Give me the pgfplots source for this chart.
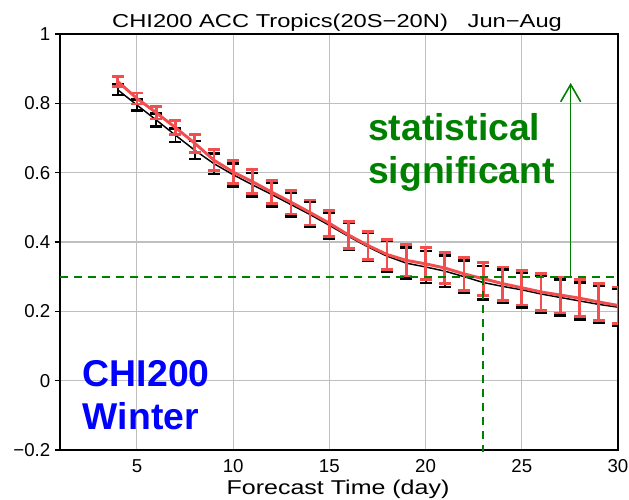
\documentclass[border=0pt]{standalone}
\usepackage{pgfplots}
\pgfplotsset{compat=1.18}
\usepackage{pgfplotstable}
\usepackage{graphicx}
\usepackage{fontspec}
\setmainfont{Liberation Sans}
\usetikzlibrary{arrows.meta}
\definecolor{myred}{RGB}{242,78,78}
\definecolor{mygreen}{RGB}{0,128,0}

\pgfplotstableread{
day r re b be
4 0.863 0.015 0.839 0.015
5 0.814 0.016 0.795 0.016
6 0.773 0.018 0.752 0.018
7 0.730 0.020 0.708 0.020
8 0.685 0.026 0.665 0.026
9 0.636 0.030 0.626 0.030
10 0.602 0.033 0.594 0.033
11 0.574 0.034 0.565 0.034
12 0.544 0.034 0.537 0.034
13 0.515 0.034 0.508 0.034
14 0.485 0.036 0.479 0.036
15 0.454 0.037 0.448 0.037
16 0.420 0.039 0.416 0.039
17 0.390 0.041 0.386 0.041
18 0.364 0.044 0.359 0.044
19 0.347 0.045 0.339 0.045
20 0.337 0.046 0.328 0.046
21 0.325 0.045 0.316 0.046
22 0.308 0.047 0.300 0.047
23 0.294 0.048 0.283 0.048
24 0.280 0.048 0.272 0.048
25 0.268 0.050 0.262 0.050
26 0.256 0.053 0.250 0.053
27 0.247 0.052 0.240 0.052
28 0.238 0.054 0.230 0.054
29 0.227 0.053 0.220 0.053
30 0.217 0.053 0.212 0.053
}\data

\begin{document}
\begin{tikzpicture}
\begin{axis}[name=ax, width=418.5pt, height=312pt, scale only axis,
  xmin=1, xmax=30, ymin=-0.2, ymax=1,
  xtick={5,10,15,20,25,30}, xticklabels={5,10,15,20,25,30},
  ytick={-0.2,0,0.2,0.4,0.6,0.8,1},
  yticklabels={−0.2,0,0.2,0.4,0.6,0.8,1},
  xtick pos=bottom, ytick pos=left, tick align=outside,
  major tick length=3.75pt,
  x tick style={draw=none},
  y tick style={black, line width=1pt},
  tick label style={font=\fontsize{14}{16}\selectfont},
  grid=major, major grid style={color=black!25, line width=0.8pt},
  axis line style={line width=1.5pt},
  clip mode=individual,
]
\addplot[black, line width=1.1pt, error bars/.cd, y dir=both, y explicit,
  error bar style={line width=1.4pt, black},
  error mark options={rotate=90, line width=2pt, mark size=4.5pt, black}]
  table[x=day, y=b, y error=be]{\data};
\addplot[myred, line width=2.2pt, error bars/.cd, y dir=both, y explicit,
  error bar style={line width=2pt, myred},
  error mark options={rotate=90, line width=2.1pt, mark size=4.5pt, myred}]
  table[x=day, y=r, y error=re]{\data};

\draw[mygreen, line width=1.5pt, dash pattern=on 6pt off 4.5pt] (axis cs:1,0.3) -- (axis cs:30,0.3);
\draw[mygreen, line width=1.5pt, dash pattern=on 6pt off 4.5pt] (axis cs:23,0.3) -- (axis cs:23,-0.205);
\draw[mygreen, line width=1.2pt, -{Straight Barb[length=13pt,width=15pt]}] (axis cs:27.54,0.3) -- (axis cs:27.54,0.859);

\node[anchor=base west, inner sep=0, text=mygreen, font=\bfseries\fontsize{28}{30}\selectfont] at (axis cs:17.0,0.694) {statistical};
\node[anchor=base west, inner sep=0, text=mygreen, font=\bfseries\fontsize{28}{30}\selectfont] at (axis cs:17.0,0.570) {significant};
\node[anchor=base west, inner sep=0, text=blue, font=\bfseries\fontsize{28}{30}\selectfont] at (axis cs:2.18,-0.017) {CHI200};
\node[anchor=base west, inner sep=0, text=blue, font=\bfseries\fontsize{28}{30}\selectfont] at (axis cs:2.18,-0.142) {Winter};

\node[anchor=base, inner sep=0, font=\fontsize{14}{16}\selectfont] at (axis cs:15.4,1.019) {\scalebox{1.27}[1]{CHI200 ACC Tropics(20S−20N)\ \ \ Jun−Aug}};
\node[anchor=base, inner sep=0, font=\fontsize{15}{17}\selectfont] at (axis cs:15.45,-0.327) {\scalebox{1.25}[1]{Forecast Time (day)}};
\end{axis}
\pgfresetboundingbox
\path[use as bounding box] ([shift={(-45pt,-37.5pt)}]ax.south west) rectangle ([shift={(8.25pt,25.5pt)}]ax.north east);
\end{tikzpicture}
\end{document}
